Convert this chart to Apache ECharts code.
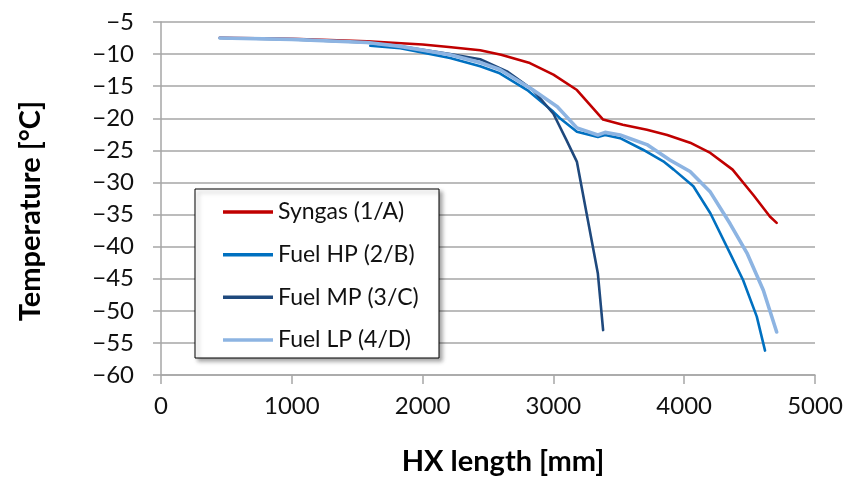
<!DOCTYPE html>
<html>
<head>
<meta charset="utf-8">
<script src="https://cdn.jsdelivr.net/npm/echarts@6/dist/echarts.min.js"></script>
<style>
html,body{margin:0;padding:0;background:#fff;}
#chart{width:848px;height:481px;}
</style>
</head>
<body>
<div id="chart"></div>
<script>
// ---- Data ----
const seriesNames = ['Syngas (1/A)', 'Fuel HP (2/B)', 'Fuel MP (3/C)', 'Fuel LP (4/D)'];

const syngasX = [450, 1000, 1575, 2000, 2200, 2440, 2600, 2820, 3000, 3180, 3380, 3530, 3715, 3870, 4045, 4200, 4370, 4530, 4655, 4707];
const syngasY = [-7.45, -7.6, -8.0, -8.5, -8.9, -9.4, -10.1, -11.4, -13.2, -15.6, -20.2, -21.0, -21.8, -22.6, -23.8, -25.4, -28.0, -32.0, -35.3, -36.3];

const fuelHPX = [1600, 1830, 2210, 2440, 2590, 2800, 3000, 3050, 3180, 3340, 3395, 3510, 3685, 3840, 3920, 4070, 4200, 4350, 4450, 4555, 4618];
const fuelHPY = [-8.7, -9.1, -10.6, -11.9, -13.0, -15.6, -19.0, -20.0, -22.1, -22.9, -22.6, -23.1, -24.9, -26.7, -28.0, -30.6, -34.8, -41.0, -45.2, -50.9, -56.2];

const fuelMPX = [450, 1000, 1575, 1830, 2210, 2440, 2645, 2845, 3000, 3100, 3180, 3340, 3380];
const fuelMPY = [-7.5, -7.7, -8.2, -8.8, -10.0, -10.8, -12.7, -15.6, -19.3, -23.4, -26.8, -44.2, -53.0];

const fuelLPX = [450, 1000, 1575, 1830, 2210, 2440, 2590, 2845, 3030, 3180, 3340, 3395, 3510, 3715, 3890, 4045, 4200, 4350, 4480, 4605, 4707];
const fuelLPY = [-7.5, -7.7, -8.2, -8.8, -10.1, -11.3, -12.4, -15.6, -18.2, -21.5, -22.6, -22.2, -22.6, -24.1, -26.5, -28.3, -31.5, -36.4, -41.0, -46.8, -53.3];

const xTicks = [0, 1000, 2000, 3000, 4000, 5000];
const yTicks = [-60, -55, -50, -45, -40, -35, -30, -25, -20, -15, -10, -5];

const xTitle = 'HX length [mm]';
const yTitle = 'Temperature [°C]';

// ---- Build chart ----
function pairs(xs, ys) { return xs.map((x, i) => [x, ys[i]]); }
const colors = ['#C00000', '#0070C0', '#1F497D', '#8DB4E2'];
const widths = [2.6, 2.6, 2.6, 3.6];
const zs = [2, 3, 3.5, 4];
const dataSets = [pairs(syngasX, syngasY), pairs(fuelHPX, fuelHPY), pairs(fuelMPX, fuelMPY), pairs(fuelLPX, fuelLPY)];

const gridColor = '#A6A6A6';
const FONT = 'Lato';

const chart = echarts.init(document.getElementById('chart'), null, {renderer: 'canvas'});
chart.setOption({
  animation: false,
  backgroundColor: '#ffffff',
  grid: {left: 161, right: 33, top: 22, bottom: 106, containLabel: false},
  xAxis: {
    type: 'value',
    min: xTicks[0], max: xTicks[xTicks.length - 1], interval: 1000,
    axisLine: {show: true, onZero: false, lineStyle: {color: gridColor, width: 1.5}},
    axisTick: {show: true, length: 9, lineStyle: {color: gridColor, width: 1.5}},
    splitLine: {show: false},
    axisLabel: {margin: 19, fontFamily: FONT, fontSize: 24, color: '#111',
      formatter: v => String(v)}
  },
  yAxis: {
    type: 'value',
    min: yTicks[0], max: yTicks[yTicks.length - 1], interval: 5,
    axisLine: {show: true, onZero: false, lineStyle: {color: gridColor, width: 1.5}},
    axisTick: {show: true, length: 8, lineStyle: {color: gridColor, width: 1.5}},
    splitLine: {show: true, lineStyle: {color: gridColor, width: 1.5}},
    axisLabel: {margin: 27, fontFamily: FONT, fontSize: 24, color: '#111',
      formatter: v => String(v).replace('-', '\u2212')}
  },
  legend: {
    orient: 'vertical', left: 223, top: 200, padding: 0, z: 10,
    data: seriesNames.map(n => ({name: n, icon: 'rect'})),
    itemWidth: 50, itemHeight: 3.5, itemGap: 18.67,
    textStyle: {fontFamily: FONT, fontSize: 23, color: '#111', lineHeight: 24}
  },
  graphic: [
    {type: 'rect', z: 3, shape: {x: 195, y: 189, width: 244, height: 169},
      style: {fill: '#fff', stroke: '#000', lineWidth: 1, shadowBlur: 4, shadowOffsetX: 3, shadowOffsetY: 3, shadowColor: 'rgba(0,0,0,0.35)'}},
    {type: 'text', z: 10, x: 503, y: 462,
      style: {text: xTitle, font: 'bold 29px ' + FONT, fill: '#000', textAlign: 'center', textVerticalAlign: 'middle'}},
    {type: 'text', z: 10, x: 31, y: 211, rotation: Math.PI / 2,
      style: {text: yTitle, font: 'bold 29px ' + FONT, fill: '#000', textAlign: 'center', textVerticalAlign: 'middle'}}
  ],
  series: seriesNames.map((n, i) => ({
    name: n, type: 'line', data: dataSets[i], showSymbol: false, z: zs[i],
    color: colors[i],
    lineStyle: {color: colors[i], width: widths[i], cap: 'round', join: 'round'}
  }))
});
</script>
</body>
</html>
